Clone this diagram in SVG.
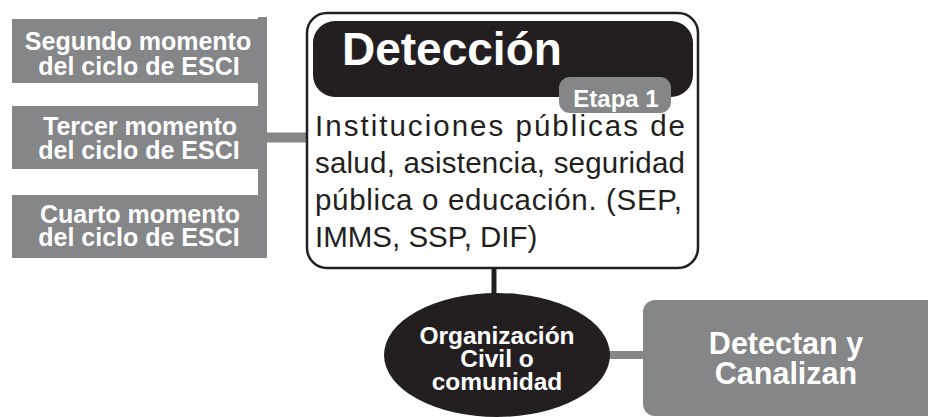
<svg xmlns="http://www.w3.org/2000/svg" width="928" height="417" viewBox="0 0 928 417">
<style>
.gray{fill:#858688}
.wb{fill:#ffffff;font-family:"Liberation Sans",Arial,sans-serif;font-weight:bold;text-anchor:middle}
.body{fill:#231f20;font-family:"Liberation Sans",Arial,sans-serif;font-size:29.5px}
.gline{stroke:#858688;fill:none}
</style>
<rect width="928" height="417" fill="#ffffff"/>
<g id="connectors">
<line class="gline" x1="262.5" y1="17" x2="262.5" y2="258" stroke-width="9"/>
<line class="gline" x1="262" y1="137.5" x2="307" y2="137.5" stroke-width="10"/>
<line x1="494" y1="268" x2="494" y2="296" stroke="#231f20" stroke-width="5"/>
<line class="gline" x1="605" y1="355" x2="645" y2="355" stroke-width="8"/>
</g>
<g id="segundo">
<rect class="gray" x="12" y="19" width="250" height="64"/>
<text class="wb" font-size="25" x="138" y="50">Segundo momento</text>
<text class="wb" font-size="25" x="139" y="75">del ciclo de ESCI</text>
</g>
<g id="tercer">
<rect class="gray" x="12" y="106" width="250" height="63"/>
<text class="wb" font-size="25" x="140" y="135">Tercer momento</text>
<text class="wb" font-size="25" x="139" y="159">del ciclo de ESCI</text>
</g>
<g id="cuarto">
<rect class="gray" x="12" y="195" width="250" height="63"/>
<text class="wb" font-size="25" x="140" y="223">Cuarto momento</text>
<text class="wb" font-size="25" x="139" y="246">del ciclo de ESCI</text>
</g>
<g id="deteccion">
<rect x="307" y="13" width="391" height="255" rx="20" fill="#ffffff" stroke="#231f20" stroke-width="2.5"/>
<rect x="313" y="21" width="380" height="76" rx="22" fill="#231f20"/>
<text x="342" y="65" font-family="'Liberation Sans',Arial,sans-serif" font-weight="bold" font-size="46" fill="#ffffff">Detección</text>
<rect class="gray" x="559" y="77" width="112" height="36" rx="11"/>
<text class="wb" font-size="24" x="616" y="107">Etapa 1</text>
<text class="body" x="315" y="136" textLength="370" lengthAdjust="spacing">Instituciones públicas de</text>
<text class="body" x="315" y="173" textLength="370" lengthAdjust="spacing">salud, asistencia, seguridad</text>
<text class="body" x="315" y="210" textLength="367" lengthAdjust="spacing">pública o educación. (SEP,</text>
<text class="body" x="315" y="247">IMMS, SSP, DIF)</text>
</g>
<g id="organizacion">
<ellipse cx="497" cy="355" rx="113" ry="62" fill="#231f20"/>
<text class="wb" font-size="24.5" x="497" y="344">Organización</text>
<text class="wb" font-size="24.5" x="497" y="367">Civil o</text>
<text class="wb" font-size="24.5" x="497" y="390">comunidad</text>
</g>
<g id="detectan">
<rect class="gray" x="643" y="300" width="300" height="116" rx="12"/>
<text class="wb" font-size="30.5" x="786" y="354">Detectan y</text>
<text class="wb" font-size="30.5" x="786" y="384">Canalizan</text>
</g>
</svg>
